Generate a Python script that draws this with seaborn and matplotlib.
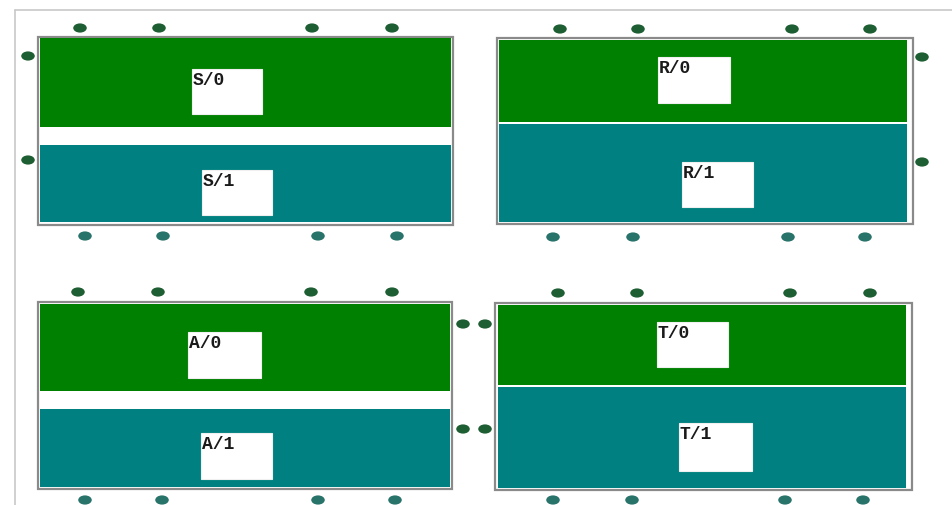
import numpy as np
import pandas as pd
import matplotlib
matplotlib.use('Agg')
import matplotlib.pyplot as plt
from matplotlib.patches import Rectangle
from matplotlib.path import Path
from matplotlib.transforms import Affine2D
import seaborn as sns

# panels of the diagram (pixel coords, y going down)
names = ['S', 'R', 'A', 'T']
states = ['0', '1']
outer = [(38, 37, 453, 225), (497, 38, 913, 224), (38, 302, 452, 489), (495, 303, 912, 490)]
green_band = [(40, 38, 451, 127), (499, 40, 907, 122), (40, 304, 450, 391), (498, 305, 906, 385)]
teal_band = [(40, 145, 451, 222), (499, 124, 907, 222), (40, 409, 450, 487), (498, 387, 906, 488)]
label0 = [(192, 69, 262, 114), (658, 57, 730, 103), (188, 332, 261, 378), (657, 322, 728, 367)]
label1 = [(202, 170, 272, 215), (682, 162, 753, 207), (201, 433, 272, 479), (679, 423, 752, 471)]

# little dots round the panels
top_x = [[80, 159, 312, 392], [560, 638, 792, 870], [78, 158, 311, 392], [558, 637, 790, 870]]
top_y = [28, 29, 292, 293]
bottom_x = [[85, 163, 318, 397], [553, 633, 788, 865], [85, 162, 318, 395], [553, 632, 785, 863]]
bottom_y = [236, 237, 500, 500]
side_x = [28, 28, 922, 922, 463, 485, 463, 485]
side_y = [56, 160, 57, 162, 324, 324, 429, 429]

GREEN = '#008000'
TEAL = '#008080'

rows = []
for i in range(4):
    for x in top_x[i]:
        rows.append((x, top_y[i], 'top'))
    for x in bottom_x[i]:
        rows.append((x, bottom_y[i], 'bottom'))
for x, y in zip(side_x, side_y):
    rows.append((x, y, 'top'))
dots = pd.DataFrame(rows, columns=['x', 'y', 'kind'])

sns.set_style('white')
fig = plt.figure(figsize=(9.52, 5.05), dpi=100)
ax = fig.add_axes([0, 0, 1, 1])

# frame lines of the page
ax.plot([15, 952], [10, 10], color='#c8c8c8', lw=1.2)
ax.plot([15, 15], [10, 505], color='#c8c8c8', lw=1.2)

def box(r, **kw):
    x0, y0, x1, y1 = r
    ax.add_patch(Rectangle((x0, y0), x1 - x0, y1 - y0, **kw))

for i, n in enumerate(names):
    box(outer[i], facecolor='white', edgecolor='#8a8a8a', lw=1.6)
    box(green_band[i], facecolor=GREEN, edgecolor='none')
    box(teal_band[i], facecolor=TEAL, edgecolor='none')
    for st, lab in zip(states, [label0[i], label1[i]]):
        box(lab, facecolor='white', edgecolor='#f0f0f0', lw=0.8)
        ax.text(lab[0] + 1, lab[1] + 3, f'{n}/{st}', ha='left', va='top',
                fontsize=13, fontweight='bold', family='Liberation Mono', color='#1a1a1a')

ellipse = Path.unit_circle().transformed(Affine2D().scale(1, 0.68))
sns.scatterplot(data=dots, x='x', y='y', hue='kind', ax=ax, legend=False,
                palette={'top': '#1d5e32', 'bottom': '#28736a'},
                marker=ellipse, s=95, linewidth=0)
ax.set_xlim(0, 952)
ax.set_ylim(505, 0)
ax.axis('off')

fig.savefig('out.png', dpi=100)
